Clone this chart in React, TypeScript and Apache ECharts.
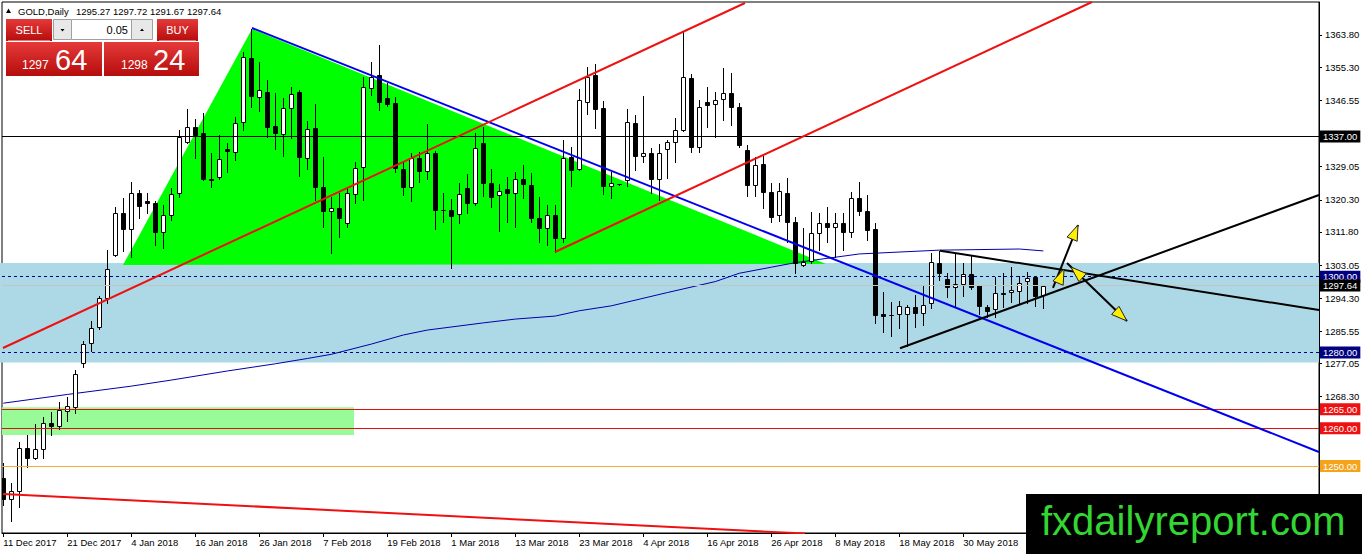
import React, { useEffect, useRef } from 'react';
import * as echarts from 'echarts';

// ---------- data (bar index 0 = 11 Dec 2017, daily bars) ----------
const opens = [
  1246.8, 1241.2, 1243.5, 1254.7, 1252.0, 1254.4, 1261.3, 1260.6, 1264.6, 1265.7,
  1277.3, 1282.4, 1286.6, 1294.3, 1305.7, 1316.9, 1312.5, 1322.2, 1320.1, 1319.5,
  1311.9, 1316.3, 1322.0, 1335.6, 1339.6, 1337.8, 1325.8, 1326.2, 1333.7, 1333.0,
  1340.9, 1357.6, 1347.3, 1348.8, 1339.8, 1337.7, 1344.5, 1348.8, 1331.2, 1339.2,
  1323.6, 1317.4, 1318.0, 1314.2, 1321.8, 1329.0, 1349.7, 1353.2, 1347.1, 1345.8,
  1328.3, 1323.6, 1331.2, 1327.9, 1332.6, 1317.7, 1317.6, 1316.5, 1323.3, 1319.4,
  1335.2, 1324.8, 1321.6, 1323.1, 1322.2, 1325.8, 1324.2, 1315.6, 1312.8, 1316.3,
  1310.3, 1331.7, 1328.4, 1346.0, 1353.2, 1344.5, 1324.0, 1324.4, 1325.5, 1340.5,
  1331.9, 1332.6, 1325.8, 1333.7, 1335.6, 1338.7, 1352.4, 1334.2, 1346.2, 1345.7,
  1346.8, 1348.6, 1344.9, 1333.4, 1324.2, 1329.7, 1322.4, 1316.3, 1322.0, 1314.5,
  1303.1, 1304.2, 1311.4, 1314.1, 1313.2, 1314.1, 1311.9, 1320.7, 1317.4, 1312.5,
  1290.1, 1290.0, 1290.1, 1290.1, 1291.9, 1290.5, 1293.0, 1303.7, 1299.3, 1297.2,
  1298.1, 1300.7, 1297.8, 1292.1, 1291.4, 1295.8, 1295.9, 1296.3, 1298.9, 1299.8,
  1295.27,
];
const highs = [
  1250.8, 1245.5, 1256.4, 1258.2, 1261.1, 1263.0, 1264.3, 1267.0, 1268.3, 1275.4,
  1283.1, 1288.4, 1294.9, 1307.0, 1318.3, 1320.7, 1325.1, 1322.9, 1322.2, 1320.1,
  1318.9, 1323.3, 1338.7, 1344.2, 1341.5, 1343.3, 1332.6, 1337.4, 1335.4, 1342.2,
  1359.4, 1365.3, 1356.8, 1351.9, 1348.4, 1347.1, 1350.2, 1349.3, 1341.2, 1345.6,
  1331.7, 1321.1, 1322.0, 1323.5, 1330.4, 1352.8, 1356.8, 1361.2, 1351.0, 1347.5,
  1330.4, 1332.6, 1333.0, 1340.3, 1333.3, 1322.0, 1320.4, 1324.8, 1327.1, 1337.8,
  1339.6, 1328.3, 1324.5, 1326.4, 1327.7, 1329.5, 1327.3, 1321.1, 1318.9, 1318.9,
  1336.1, 1334.3, 1349.5, 1355.4, 1356.1, 1346.4, 1327.6, 1324.5, 1344.3, 1342.7,
  1347.8, 1333.9, 1334.9, 1336.1, 1341.8, 1364.9, 1353.5, 1346.6, 1350.0, 1348.8,
  1355.0, 1353.8, 1345.8, 1334.8, 1331.7, 1331.9, 1324.6, 1324.6, 1326.0, 1315.7,
  1312.8, 1317.1, 1316.7, 1318.5, 1316.9, 1316.7, 1322.4, 1325.1, 1321.6, 1314.1,
  1296.0, 1293.4, 1293.7, 1292.5, 1295.2, 1297.5, 1306.3, 1306.9, 1300.9, 1306.2,
  1303.5, 1305.5, 1297.9, 1292.5, 1299.8, 1301.0, 1302.5, 1300.2, 1301.3, 1299.9,
  1297.72,
];
const lows = [
  1239.7, 1235.6, 1239.3, 1249.8, 1251.8, 1252.0, 1258.2, 1259.9, 1262.0, 1264.1,
  1276.2, 1280.5, 1286.1, 1293.1, 1305.5, 1306.9, 1305.1, 1315.4, 1316.7, 1308.4,
  1307.5, 1315.0, 1321.1, 1335.2, 1331.2, 1325.5, 1323.6, 1325.7, 1327.7, 1330.8,
  1338.7, 1344.7, 1343.8, 1337.0, 1333.6, 1331.9, 1336.5, 1326.6, 1328.3, 1320.2,
  1313.2, 1306.2, 1310.6, 1313.2, 1319.4, 1320.2, 1348.0, 1344.0, 1345.1, 1327.7,
  1321.6, 1320.1, 1325.1, 1325.7, 1312.5, 1314.5, 1302.2, 1314.2, 1316.7, 1318.9,
  1321.3, 1318.3, 1312.1, 1314.5, 1313.2, 1320.7, 1314.4, 1309.1, 1308.4, 1306.5,
  1309.1, 1324.0, 1328.2, 1342.9, 1339.2, 1321.7, 1320.7, 1324.3, 1324.0, 1328.2,
  1330.4, 1322.0, 1320.2, 1326.1, 1330.4, 1338.5, 1333.0, 1333.0, 1339.6, 1336.8,
  1341.4, 1340.0, 1334.3, 1321.3, 1321.3, 1318.0, 1314.5, 1314.8, 1309.2, 1301.0,
  1302.8, 1303.5, 1307.0, 1309.2, 1305.3, 1307.0, 1310.6, 1316.3, 1309.7, 1287.8,
  1285.5, 1284.3, 1286.4, 1281.7, 1286.8, 1287.2, 1291.6, 1299.1, 1294.7, 1292.3,
  1294.9, 1296.7, 1290.1, 1289.4, 1289.3, 1292.1, 1293.4, 1293.0, 1293.1, 1292.3,
  1291.67,
];
const closes = [
  1241.3, 1243.5, 1254.7, 1252.0, 1254.4, 1261.3, 1260.6, 1264.8, 1265.9, 1274.3,
  1282.2, 1286.4, 1294.3, 1301.9, 1316.7, 1312.5, 1322.2, 1318.7, 1319.5, 1311.9,
  1316.3, 1321.8, 1337.0, 1339.4, 1337.4, 1325.7, 1325.4, 1331.0, 1333.3, 1340.6,
  1357.9, 1347.7, 1349.3, 1339.6, 1337.8, 1344.5, 1348.2, 1331.7, 1338.9, 1323.6,
  1317.4, 1318.2, 1315.4, 1322.0, 1328.6, 1350.0, 1352.8, 1346.2, 1345.6, 1328.6,
  1323.8, 1331.2, 1328.0, 1332.6, 1317.6, 1317.5, 1316.1, 1321.8, 1319.4, 1333.9,
  1324.8, 1321.1, 1322.7, 1322.2, 1325.7, 1324.4, 1315.6, 1312.9, 1316.3, 1310.3,
  1331.4, 1328.2, 1346.6, 1352.8, 1344.3, 1324.0, 1324.6, 1324.4, 1340.8, 1331.9,
  1332.6, 1325.8, 1332.6, 1335.6, 1338.7, 1352.8, 1334.2, 1344.7, 1345.3, 1346.6,
  1348.6, 1344.9, 1334.8, 1324.2, 1329.5, 1322.4, 1315.8, 1322.7, 1314.5, 1303.5,
  1304.0, 1311.4, 1314.2, 1313.2, 1314.1, 1311.9, 1320.7, 1317.4, 1312.3, 1289.9,
  1289.7, 1289.8, 1292.3, 1291.9, 1290.3, 1292.5, 1303.9, 1300.9, 1297.4, 1298.0,
  1300.6, 1297.4, 1292.3, 1291.0, 1295.6, 1295.4, 1296.5, 1298.2, 1299.6, 1294.9,
  1297.64,
];

const dateTickIndex = [0, 8, 16, 24, 32, 40, 48, 56, 64, 72, 80, 88, 96, 104, 112, 120];
const dateTickLabels = [
  '11 Dec 2017', '21 Dec 2017', '4 Jan 2018', '16 Jan 2018', '26 Jan 2018', '7 Feb 2018',
  '19 Feb 2018', '1 Mar 2018', '13 Mar 2018', '23 Mar 2018', '4 Apr 2018', '16 Apr 2018',
  '26 Apr 2018', '8 May 2018', '18 May 2018', '30 May 2018',
];
// price scale ticks, and the tick labels that are not hidden by level boxes / watermark
const priceTicks = [
  1363.8, 1355.3, 1346.55, 1337.8, 1329.05, 1320.3, 1311.8, 1303.05, 1294.3,
  1285.55, 1277.05, 1268.3, 1259.55, 1250.8, 1242.05,
];
const priceTickLabels = [
  1363.8, 1355.3, 1346.55, 1329.05, 1320.3, 1311.8, 1303.05, 1294.3,
  1285.55, 1277.05, 1268.3,
];

// moving average, read at these bar indexes
const maIdx = [0, 8, 16, 21, 28, 34, 38, 41, 46, 50, 53, 60, 64, 69, 72, 76, 83, 89, 92, 96, 99, 107, 117, 127, 130];
const maVal = [
  1266.6, 1268.9, 1271.1, 1272.7, 1275.1, 1277.0, 1278.4, 1279.5, 1282.2, 1284.6, 1285.9,
  1287.8, 1288.8, 1289.6, 1291.0, 1292.3, 1295.8, 1298.7, 1300.9, 1302.5, 1303.7, 1306.0,
  1307.0, 1307.3, 1306.8,
];

// horizontal levels
const levelValues = [1337.0, 1300.0, 1297.64, 1280.0, 1265.0, 1260.0, 1250.0];

// zones
const supportZone = [1277.34, 1303.61];
const demandZone = [1258.2, 1265.5];
const demandZoneEndIdx = 43.84;

// green triangle (bar index, price)
const triangleIdx = [14.96, 31.09, 102.84];
const trianglePrice = [1303.08, 1365.38, 1303.34];

// trend lines: [[idx, price], [idx, price]]
const blueTrend = [[31.09, 1365.65], [164.46, 1253.71]];
const redLines = [
  [[-0.04, 1281.17], [92.71, 1372.25]],
  [[68.96, 1306.51], [136.09, 1372.51]],
  [[-0.04, 1242.62], [100.21, 1232.2]],
];
const blackLines = [
  [[117.09, 1306.86], [164.46, 1291.2]],
  [[112.09, 1281.09], [164.46, 1321.56]],
];
const arrowLines = [
  [[131.21, 1297.01], [134.34, 1313.64]],
  [[132.96, 1303.61], [140.46, 1288.3]],
];
// arrow heads: tipIdx, tipPrice, baseIdx, basePrice
const arrowHeads = [
  [134.34, 1313.64, 133.6, 1309.9],
  [132.59, 1302.02, 131.85, 1298.3],
  [140.46, 1288.3, 139.0, 1291.1],
  [133.46, 1302.55, 134.92, 1299.75],
];

const FONT = '"Liberation Sans", Arial, sans-serif';

function buildOption() {
  const candleData = opens.map((o, i) => [i, o, closes[i], lows[i], highs[i]]);

  const levelStyles = [
    { line: '#000000', type: 'solid', bg: '#000000' },
    { line: '#00008b', type: [3, 3], bg: '#000080' },
    { line: '#c4c4c4', type: 'solid', bg: '#000000' },
    { line: '#00008b', type: [3, 3], bg: '#000080' },
    { line: '#e01010', type: 'solid', bg: '#ee1111' },
    { line: '#e01010', type: 'solid', bg: '#ee1111' },
    { line: '#f0ae35', type: 'solid', bg: '#f5a31a' },
  ];

  const lineSeries = (pts: number[][], color: string, width: number, z: number) => ({
    type: 'line',
    data: pts,
    symbol: 'none',
    silent: true,
    z,
    lineStyle: { color, width },
    clip: true,
  });

  const redGradient = {
    type: 'linear', x: 0, y: 0, x2: 0, y2: 1,
    colorStops: [
      { offset: 0, color: '#e63a3a' },
      { offset: 1, color: '#b50c0c' },
    ],
  };

  const txt = (text: string, x: number, y: number, size: number, fill: string, align = 'left') => ({
    type: 'text',
    x,
    y,
    z: 101,
    style: {
      text,
      fill,
      font: `${size}px ${FONT}`,
      textAlign: align,
      align,
      textVerticalAlign: 'middle',
      verticalAlign: 'middle',
    },
  });

  const graphicElements: any[] = [
    // header
    { type: 'polygon', z: 100, shape: { points: [[6, 13], [11, 13], [8.5, 8.5]] }, style: { fill: '#000' } },
    txt('GOLD,Daily', 18, 11, 9.5, '#000'),
    txt('1295.27 1297.72 1291.67 1297.64', 76, 11, 9.5, '#000'),
    // sell / buy small buttons
    { type: 'rect', z: 100, shape: { x: 6, y: 19, width: 46, height: 22 }, style: { fill: redGradient } },
    { type: 'line', z: 101, shape: { x1: 8, y1: 40.5, x2: 50, y2: 40.5 }, style: { stroke: '#f07070', lineWidth: 1 } },
    txt('SELL', 29, 30, 11, '#fff', 'center'),
    { type: 'rect', z: 100, shape: { x: 53.5, y: 19.5, width: 18, height: 20 }, style: { fill: '#e8e8e8', stroke: '#a0a0a0', lineWidth: 1 } },
    { type: 'polygon', z: 101, shape: { points: [[60.5, 29], [64.5, 29], [62.5, 31.5]] }, style: { fill: '#000' } },
    { type: 'rect', z: 100, shape: { x: 71.5, y: 19.5, width: 60, height: 20 }, style: { fill: '#fff', stroke: '#a0a0a0', lineWidth: 1 } },
    txt('0.05', 128, 30, 11, '#000', 'right'),
    { type: 'rect', z: 100, shape: { x: 131.5, y: 19.5, width: 21, height: 20 }, style: { fill: '#e8e8e8', stroke: '#a0a0a0', lineWidth: 1 } },
    { type: 'polygon', z: 101, shape: { points: [[140, 31], [144, 31], [142, 28.5]] }, style: { fill: '#000' } },
    { type: 'rect', z: 100, shape: { x: 157, y: 19, width: 41, height: 22 }, style: { fill: redGradient } },
    { type: 'line', z: 101, shape: { x1: 159, y1: 40.5, x2: 196, y2: 40.5 }, style: { stroke: '#f07070', lineWidth: 1 } },
    txt('BUY', 177.5, 30, 11, '#fff', 'center'),
    // big price boxes
    { type: 'rect', z: 100, shape: { x: 6, y: 42, width: 96, height: 34 }, style: { fill: redGradient } },
    txt('1297', 22, 65, 12, '#fff'),
    txt('64', 55, 59.5, 29, '#fff'),
    { type: 'rect', z: 100, shape: { x: 104, y: 42, width: 95, height: 34 }, style: { fill: redGradient } },
    txt('1298', 121, 65, 12, '#fff'),
    txt('24', 153, 59.5, 29, '#fff'),
    // watermark
    { type: 'rect', z: 100, shape: { x: 1026, y: 494, width: 336, height: 60 }, style: { fill: '#000' } },
    txt('fxdailyreport.com', 1041, 521, 40, '#33d633'),
  ];

  return {
    animation: false,
    backgroundColor: '#ffffff',
    textStyle: { fontFamily: FONT },
    grid: {
      left: 2, top: 2, right: 43, bottom: 21,
      show: true, borderColor: '#000', borderWidth: 1, backgroundColor: 'transparent',
      containLabel: false, outerBoundsMode: 'none',
    },
    xAxis: {
      type: 'value',
      min: -0.1625,
      max: 164.4625,
      splitLine: { show: false },
      axisLine: { show: true, onZero: false, lineStyle: { color: '#000', width: 1 } },
      axisTick: { show: true, length: 4, customValues: dateTickIndex, lineStyle: { color: '#000' } },
      axisLabel: {
        customValues: dateTickIndex,
        formatter: (v: number) => dateTickLabels[dateTickIndex.indexOf(Math.round(v))] || '',
        color: '#000',
        fontSize: 9.5,
        fontFamily: FONT,
        align: 'left',
        margin: 4,
      },
    },
    yAxis: {
      type: 'value',
      position: 'right',
      min: 1232.33,
      max: 1372.51,
      splitLine: { show: false },
      axisLine: { show: true, onZero: false, lineStyle: { color: '#000', width: 1 } },
      axisTick: { show: true, length: 3, customValues: priceTicks, lineStyle: { color: '#000' } },
      axisLabel: {
        customValues: priceTickLabels,
        formatter: (v: number) => Number(v).toFixed(2),
        color: '#000',
        fontSize: 9.5,
        fontFamily: FONT,
        margin: 6,
      },
    },
    series: [
      // support zone (light blue)
      {
        type: 'custom',
        silent: true,
        z: 1,
        data: [supportZone],
        encode: { y: [0, 1] },
        renderItem: (params: any, api: any) => {
          const cs = params.coordSys;
          const yTop = api.coord([0, api.value(1)])[1];
          const yBot = api.coord([0, api.value(0)])[1];
          return {
            type: 'rect',
            shape: { x: cs.x - 2, y: yTop, width: cs.width + 2, height: yBot - yTop },
            style: { fill: '#add8e6' },
          };
        },
      },
      // demand zone (pale green)
      {
        type: 'custom',
        silent: true,
        z: 1,
        data: [[demandZone[0], demandZone[1], demandZoneEndIdx]],
        encode: { y: [0, 1] },
        renderItem: (params: any, api: any) => {
          const cs = params.coordSys;
          const pTop = api.coord([api.value(2), api.value(1)]);
          const pBot = api.coord([api.value(2), api.value(0)]);
          return {
            type: 'rect',
            shape: { x: cs.x, y: pTop[1], width: pTop[0] - cs.x, height: pBot[1] - pTop[1] },
            style: { fill: '#98fb98' },
          };
        },
      },
      // green triangle
      {
        type: 'custom',
        silent: true,
        z: 2,
        data: triangleIdx.map((ix, k) => [ix, trianglePrice[k]]),
        renderItem: (params: any, api: any) => {
          if (params.dataIndex !== 0) return null;
          const pts = triangleIdx.map((ix, k) => api.coord([ix, trianglePrice[k]]));
          return { type: 'polygon', shape: { points: pts }, style: { fill: '#00ff00' } };
        },
      },
      // moving average + horizontal levels
      {
        type: 'line',
        data: maIdx.map((ix, k) => [ix, maVal[k]]),
        symbol: 'none',
        silent: true,
        z: 3,
        lineStyle: { color: '#0000aa', width: 1 },
        markLine: {
          silent: true,
          symbol: ['none', 'none'],
          animation: false,
          z: 6,
          data: levelValues.map((v, k) => ({
            yAxis: v,
            lineStyle: { color: levelStyles[k].line, width: 1, type: levelStyles[k].type },
            label: {
              show: true,
              position: 'end',
              distance: 1,
              formatter: () => v.toFixed(2),
              color: '#fff',
              backgroundColor: levelStyles[k].bg,
              padding: [1, 3, 1, 3],
              fontSize: 9.5,
              fontFamily: FONT,
            },
          })),
        },
      },
      // candles
      {
        type: 'custom',
        silent: true,
        z: 5,
        clip: true,
        data: candleData,
        encode: { x: 0, y: [1, 2, 3, 4] },
        renderItem: (params: any, api: any) => {
          const i = api.value(0);
          const o = api.value(1);
          const c = api.value(2);
          const l = api.value(3);
          const h = api.value(4);
          const po = api.coord([i, o]);
          const pc = api.coord([i, c]);
          const pl = api.coord([i, l]);
          const ph = api.coord([i, h]);
          const cx = Math.round(po[0]) + 0.5;
          const top = Math.round(Math.min(po[1], pc[1])) + 0.5;
          const bot = Math.round(Math.max(po[1], pc[1])) + 0.5;
          const bull = c > o;
          return {
            type: 'group',
            children: [
              { type: 'line', shape: { x1: cx, y1: Math.round(ph[1]), x2: cx, y2: Math.round(pl[1]) + 1 }, style: { stroke: '#000', lineWidth: 1 } },
              { type: 'rect', shape: { x: cx - 2, y: top, width: 4, height: Math.max(bot - top, 0) }, style: { fill: bull ? '#fff' : '#000', stroke: '#000', lineWidth: 1 } },
            ],
          };
        },
      },
      // trend lines
      lineSeries(blueTrend, '#0000ee', 2, 7),
      ...redLines.map((l) => lineSeries(l, '#ee1111', 2, 7)),
      ...blackLines.map((l) => lineSeries(l, '#000000', 2, 7)),
      ...arrowLines.map((l) => lineSeries(l, '#000000', 2, 8)),
      // arrow heads
      {
        type: 'custom',
        silent: true,
        z: 9,
        data: arrowHeads,
        encode: { x: [0, 2], y: [1, 3] },
        renderItem: (params: any, api: any) => {
          const tip = api.coord([api.value(0), api.value(1)]);
          const base = api.coord([api.value(2), api.value(3)]);
          const dx = tip[0] - base[0];
          const dy = tip[1] - base[1];
          const len = Math.hypot(dx, dy) || 1;
          const nx = (-dy / len) * 5.5;
          const ny = (dx / len) * 5.5;
          return {
            type: 'polygon',
            shape: { points: [tip, [base[0] + nx, base[1] + ny], [base[0] - nx, base[1] - ny]] },
            style: { fill: '#ffee00', stroke: '#222', lineWidth: 1 },
          };
        },
      },
    ],
    graphic: { elements: graphicElements },
  };
}

export default function App() {
  const ref = useRef<HTMLDivElement>(null);
  useEffect(() => {
    document.body.style.margin = '0';
    if (!ref.current) return;
    const chart = echarts.init(ref.current, null, { renderer: 'svg' });
    chart.setOption(buildOption() as any);
    return () => chart.dispose();
  }, []);
  return (
    <div
      ref={ref}
      style={{ width: 1362, height: 554, position: 'absolute', left: 0, top: 0, background: '#fff' }}
    />
  );
}
